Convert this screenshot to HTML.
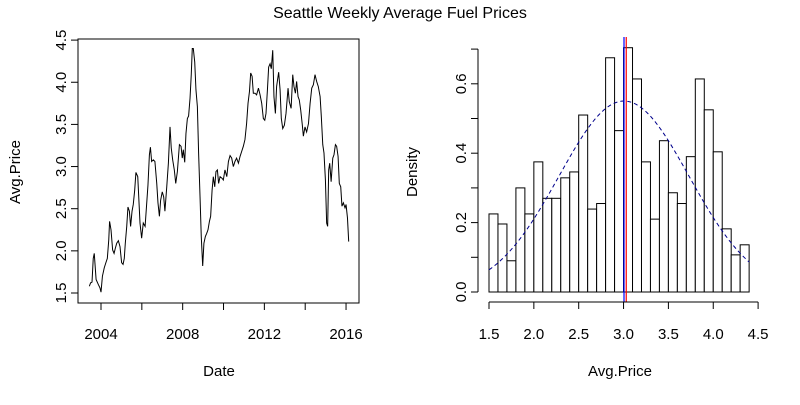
<!DOCTYPE html>
<html><head><meta charset="utf-8"><style>
body{margin:0;background:#fff}
svg text{font-family:"Liberation Sans",Arial,sans-serif;fill:#000}
</style></head><body>
<svg id="c" width="800" height="400" xmlns="http://www.w3.org/2000/svg">
<rect width="800" height="400" fill="#fff"/>
<text x="400" y="18" font-size="16" text-anchor="middle">Seattle Weekly Average Fuel Prices</text>
</svg>
<script>
const dates=[2003.43,2003.49,2003.56,2003.62,2003.67,2003.76,2003.87,2003.95,2004.00,2004.07,2004.16,2004.24,2004.31,2004.38,2004.42,2004.49,2004.57,2004.64,2004.70,2004.77,2004.85,2004.93,2005.01,2005.08,2005.14,2005.19,2005.26,2005.32,2005.39,2005.45,2005.52,2005.58,2005.65,2005.71,2005.80,2005.84,2005.91,2005.99,2006.07,2006.16,2006.24,2006.30,2006.37,2006.42,2006.48,2006.56,2006.64,2006.73,2006.79,2006.86,2006.92,2007.00,2007.07,2007.13,2007.22,2007.30,2007.38,2007.44,2007.51,2007.59,2007.66,2007.74,2007.84,2007.92,2007.98,2008.03,2008.10,2008.16,2008.23,2008.29,2008.36,2008.42,2008.47,2008.52,2008.59,2008.65,2008.72,2008.78,2008.85,2008.91,2008.98,2009.04,2009.11,2009.18,2009.24,2009.31,2009.37,2009.44,2009.50,2009.57,2009.63,2009.70,2009.76,2009.83,2009.93,2009.99,2010.07,2010.16,2010.24,2010.32,2010.40,2010.48,2010.56,2010.64,2010.73,2010.81,2010.89,2010.97,2011.05,2011.13,2011.20,2011.27,2011.33,2011.40,2011.46,2011.54,2011.62,2011.71,2011.79,2011.87,2011.95,2012.02,2012.08,2012.15,2012.21,2012.28,2012.34,2012.41,2012.47,2012.54,2012.60,2012.70,2012.77,2012.83,2012.90,2012.98,2013.06,2013.16,2013.22,2013.31,2013.39,2013.45,2013.52,2013.58,2013.65,2013.71,2013.78,2013.86,2013.91,2013.99,2014.07,2014.16,2014.24,2014.32,2014.40,2014.48,2014.56,2014.64,2014.73,2014.79,2014.86,2014.92,2014.99,2015.05,2015.10,2015.15,2015.20,2015.27,2015.35,2015.41,2015.48,2015.54,2015.61,2015.67,2015.74,2015.80,2015.87,2015.95,2016.00,2016.07,2016.13];
const prices=[1.58,1.62,1.63,1.91,1.97,1.66,1.60,1.56,1.51,1.70,1.80,1.86,1.91,2.13,2.35,2.25,2.01,1.97,2.03,2.09,2.12,2.05,1.86,1.84,1.91,2.09,2.29,2.52,2.47,2.29,2.47,2.55,2.72,2.93,2.88,2.68,2.33,2.15,2.33,2.29,2.57,2.78,3.14,3.23,3.06,3.08,3.06,2.80,2.57,2.41,2.60,2.70,2.64,2.47,2.76,3.04,3.47,3.22,3.08,2.96,2.80,2.94,3.26,3.24,3.10,3.20,3.05,3.39,3.57,3.60,3.81,4.09,4.40,4.40,4.24,3.91,3.71,3.16,2.64,2.17,1.82,2.09,2.17,2.21,2.25,2.35,2.41,2.72,2.88,2.76,2.94,2.96,2.80,2.88,2.86,2.84,2.96,2.88,3.06,3.13,3.10,3.00,3.06,3.10,3.04,3.12,3.18,3.24,3.32,3.51,3.75,3.89,4.11,4.07,3.87,3.87,3.85,3.93,3.85,3.75,3.57,3.55,3.63,3.91,4.18,4.22,4.16,4.38,3.83,3.63,3.95,4.12,3.91,3.57,3.45,3.49,3.63,3.93,3.77,3.69,4.09,3.95,3.87,4.01,3.83,3.79,3.67,3.49,3.36,3.47,3.41,3.51,3.75,3.93,3.97,4.09,4.01,3.95,3.83,3.59,3.26,3.16,2.84,2.33,2.29,2.96,3.04,2.82,3.10,3.14,3.26,3.24,3.12,2.80,2.76,2.53,2.57,2.51,2.55,2.39,2.11];
const yearTicks=[2004,2006,2008,2010,2012,2014,2016];
const yearLabels=["2004","","2008","","2012","","2016"];
const priceTicks=[1.5,2.0,2.5,3.0,3.5,4.0,4.5];
const binStarts=[1.5,1.6,1.7,1.8,1.9,2.0,2.1,2.2,2.3,2.4,2.5,2.6,2.7,2.8,2.9,3.0,3.1,3.2,3.3,3.4,3.5,3.6,3.7,3.8,3.9,4.0,4.1,4.2,4.3];
const densities=[0.225,0.196,0.090,0.30,0.225,0.375,0.27,0.27,0.329,0.346,0.51,0.239,0.255,0.675,0.465,0.704,0.614,0.375,0.21,0.436,0.286,0.255,0.39,0.614,0.525,0.404,0.182,0.107,0.136];
const histXTicks=[1.5,2.0,2.5,3.0,3.5,4.0,4.5];
const densTicks=[0,0.1,0.2,0.3,0.4,0.5,0.6,0.7];
const densLabels=["0.0","","0.2","","0.4","","0.6",""];
const meanVal=3.005, medianVal=3.03, sdVal=0.725;

const svg=document.getElementById('c');
const NS='http://www.w3.org/2000/svg';
function mk(tag,attrs,parent){const e=document.createElementNS(NS,tag);for(const k in attrs)e.setAttribute(k,attrs[k]);(parent||svg).appendChild(e);return e;}
// left scales
const lx=v=>101+(v-2004)*20.42, ly=v=>293-(v-1.5)*84.3;
const gL=mk('g',{});


const box=mk('rect',{x:78,y:39,width:281,height:264,fill:'none',stroke:'#000','stroke-width':1},gL);


mk('line',{x1:lx(2004),x2:lx(2016),y1:303,y2:303,stroke:'#000'},gL);
yearTicks.forEach((t,i)=>{mk('line',{x1:lx(t),x2:lx(t),y1:303,y2:310,stroke:'#000'},gL);
 if(yearLabels[i]){const tx=mk('text',{x:lx(t),y:339,'font-size':15,'text-anchor':'middle'},gL);tx.textContent=yearLabels[i];
 
 }});
mk('line',{x1:78,x2:78,y1:ly(1.5),y2:ly(4.5),stroke:'#000'},gL);
priceTicks.forEach(t=>{mk('line',{x1:71,x2:78,y1:ly(t),y2:ly(t),stroke:'#000'},gL);
 const tx=mk('text',{x:0,y:0,'font-size':15,'text-anchor':'middle',transform:`translate(66,${ly(t)}) rotate(-90)`},gL);tx.textContent=t.toFixed(1);
 
 });
const lp=mk('polyline',{points:dates.map((d,i)=>lx(d)+','+ly(prices[i])).join(' '),fill:'none',stroke:'#000','stroke-width':1},gL);


let t1=mk('text',{x:219,y:376,'font-size':15,'text-anchor':'middle'},gL);t1.textContent='Date';


let t2=mk('text',{x:0,y:0,'font-size':15,'text-anchor':'middle',transform:'translate(20,172) rotate(-90)'},gL);t2.textContent='Avg.Price';


// right scales
const hx=v=>489+(v-1.5)*89.7, hy=v=>292-v*347;
const gR=mk('g',{});


binStarts.forEach((b,i)=>{const r=mk('rect',{x:hx(b),y:hy(densities[i]),width:hx(b+0.1)-hx(b),height:hy(0)-hy(densities[i]),fill:'#fff',stroke:'#000','stroke-width':1},gR);
 
 });
const pts=[];for(let x=1.5;x<=4.4001;x+=0.02){pts.push(hx(x)+','+hy(Math.exp(-((x-meanVal)**2)/(2*sdVal*sdVal))/(sdVal*Math.sqrt(2*Math.PI))));}
const nc=mk('polyline',{points:pts.join(' '),fill:'none',stroke:'#00008b','stroke-width':1,'stroke-dasharray':'4 3'},gR);


const ml=mk('line',{x1:hx(meanVal),x2:hx(meanVal),y1:37,y2:302,stroke:'#0000ff','stroke-width':1.2},gR);


const dl=mk('line',{x1:hx(medianVal),x2:hx(medianVal),y1:37,y2:302,stroke:'#ff0000','stroke-width':1.2},gR);


mk('line',{x1:hx(1.5),x2:hx(4.5),y1:302,y2:302,stroke:'#000'},gR);
histXTicks.forEach(t=>{mk('line',{x1:hx(t),x2:hx(t),y1:302,y2:309,stroke:'#000'},gR);
 const tx=mk('text',{x:hx(t),y:339,'font-size':15,'text-anchor':'middle'},gR);tx.textContent=t.toFixed(1);
 
 });
mk('line',{x1:478,x2:478,y1:hy(0),y2:hy(0.7),stroke:'#000'},gR);
densTicks.forEach((t,i)=>{mk('line',{x1:471,x2:478,y1:hy(t),y2:hy(t),stroke:'#000'},gR);
 if(densLabels[i]){const tx=mk('text',{x:0,y:0,'font-size':15,'text-anchor':'middle',transform:`translate(466,${hy(t)}) rotate(-90)`},gR);tx.textContent=densLabels[i];
 
 }});
let t3=mk('text',{x:620,y:376,'font-size':15,'text-anchor':'middle'},gR);t3.textContent='Avg.Price';


let t4=mk('text',{x:0,y:0,'font-size':15,'text-anchor':'middle',transform:'translate(417,172) rotate(-90)'},gR);t4.textContent='Density';


</script>
</body></html>
